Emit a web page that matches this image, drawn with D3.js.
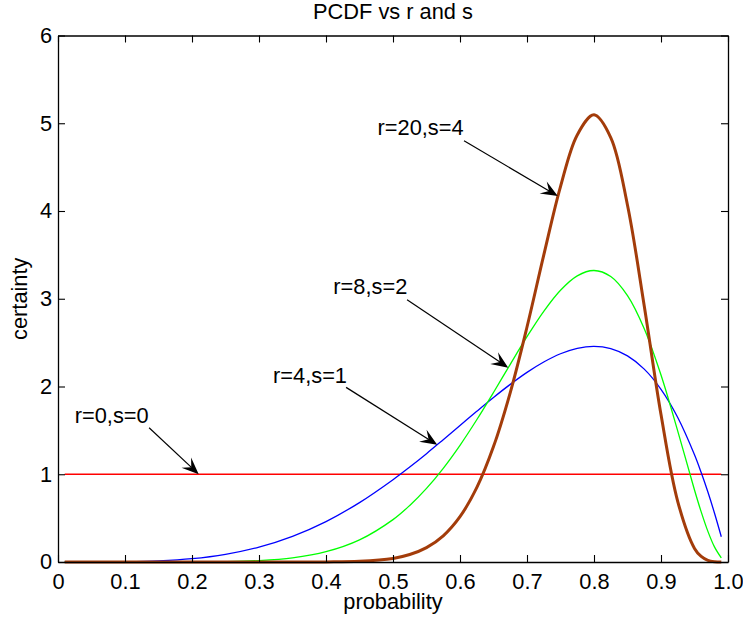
<!DOCTYPE html>
<html>
<head>
<meta charset="utf-8">
<script src="https://cdn.jsdelivr.net/npm/d3@7"></script>
<style>
  body { margin: 0; background: #fff; }
  text { font-family: "Liberation Sans", Arial, Helvetica, sans-serif; fill: #000; }
</style>
</head>
<body>
<script>
// probability values (x) shared by all curves
var xs = [0.01, 0.05, 0.1, 0.15, 0.2, 0.25, 0.3, 0.35, 0.4, 0.45, 0.5, 0.525, 0.55, 0.575,
          0.6, 0.625, 0.65, 0.675, 0.7, 0.725, 0.75, 0.775, 0.8, 0.825, 0.85, 0.875,
          0.9, 0.925, 0.95, 0.96, 0.97, 0.98, 0.99];

// certainty, one array per curve
var r0s0 = [1, 1, 1, 1, 1, 1, 1, 1, 1, 1, 1, 1, 1, 1, 1, 1, 1, 1, 1, 1, 1, 1, 1, 1, 1, 1,
            1, 1, 1, 1, 1, 1, 1];
var r4s1 = [0, 0.0002, 0.003, 0.013, 0.038, 0.088, 0.17, 0.293, 0.461, 0.677, 0.938, 1.083, 1.235, 1.394,
            1.555, 1.717, 1.875, 2.024, 2.161, 2.279, 2.373, 2.435, 2.458, 2.432, 2.349, 2.198,
            1.968, 1.647, 1.222, 1.019, 0.797, 0.553, 0.288];
var r8s2 = [0, 0, 0, 0.0001, 0.0008, 0.004, 0.016, 0.047, 0.117, 0.252, 0.483, 0.645, 0.839, 1.068,
            1.330, 1.621, 1.932, 2.253, 2.568, 2.857, 3.097, 3.261, 3.322, 3.253, 3.035, 2.658,
            2.131, 1.492, 0.821, 0.571, 0.349, 0.169, 0.046];
var r20s4 = [0, 0, 0, 0, 0, 0, 0, 0.0001, 0.001, 0.008, 0.041, 0.085, 0.164, 0.299,
             0.517, 0.847, 1.315, 1.931, 2.678, 3.497, 4.278, 4.867, 5.096, 4.837, 4.066, 2.918,
             1.680, 0.689, 0.155, 0.063, 0.018, 0.003, 0.0001];

var seriesValues = [r0s0, r4s1, r8s2, r20s4];
var seriesColors = ["#ff0000", "#0000ff", "#00ff00", "#a33c0a"];
var seriesWidths = [1.3, 1.3, 1.3, 3];

// annotation arrows: text position, arrow tail and arrow tip (data units)
var noteLabels = ["r=0,s=0", "r=4,s=1", "r=8,s=2", "r=20,s=4"];
var noteTextX = [0.025, 0.321, 0.411, 0.477];
var noteTextY = [1.58, 2.04, 3.05, 4.87];
var noteTailX = [0.136, 0.430, 0.521, 0.606];
var noteTailY = [1.53, 1.99, 2.99, 4.80];
var noteTipX = [0.21, 0.566, 0.672, 0.746];
var noteTipY = [1.0, 1.336, 2.215, 4.17];

var xTicks = [0, 0.1, 0.2, 0.3, 0.4, 0.5, 0.6, 0.7, 0.8, 0.9, 1.0];
var xTickLabels = ["0", "0.1", "0.2", "0.3", "0.4", "0.5", "0.6", "0.7", "0.8", "0.9", "1.0"];
var yTicks = [0, 1, 2, 3, 4, 5, 6];

var width = 743, height = 622;
var plotLeft = 58, plotRight = 728, plotTop = 35.5, plotBottom = 562;
var fontSize = "21.8px";

var svg = d3.select("body").append("svg")
  .attr("width", width)
  .attr("height", height);

var x = d3.scaleLinear().domain([0, 1]).range([plotLeft, plotRight]);
var y = d3.scaleLinear().domain([0, 6]).range([plotBottom, plotTop]);

// curves
var line = d3.line()
  .x(function(d) { return x(d[0]); })
  .y(function(d) { return y(d[1]); })
  .curve(d3.curveCatmullRom.alpha(0.5));

seriesValues.forEach(function(vals, i) {
  svg.append("path")
    .datum(xs.map(function(v, j) { return [v, vals[j]]; }))
    .attr("fill", "none")
    .attr("stroke", seriesColors[i])
    .attr("stroke-width", seriesWidths[i])
    .attr("stroke-linejoin", "round")
    .attr("d", line);
});

// axes, ticks pointing inward on all four sides
function styleAxis(g) {
  g.selectAll("path").attr("stroke", "#000").attr("stroke-width", 1.3);
  g.selectAll(".tick line").attr("stroke", "#000").attr("stroke-width", 1.1);
  g.selectAll("text").style("font-size", fontSize).attr("fill", "#000");
}

svg.append("g")
  .attr("transform", "translate(0," + plotBottom + ")")
  .call(d3.axisBottom(x).tickValues(xTicks).tickSize(-7).tickSizeOuter(0)
        .tickFormat(function(d, i) { return xTickLabels[i]; }))
  .call(styleAxis)
  .call(function(g) { g.selectAll("text").attr("dy", null).attr("y", 26.5); });

svg.append("g")
  .attr("transform", "translate(0," + plotTop + ")")
  .call(d3.axisTop(x).tickValues(xTicks).tickSize(-7).tickSizeOuter(0).tickFormat(""))
  .call(styleAxis);

svg.append("g")
  .attr("transform", "translate(" + plotLeft + ",0)")
  .call(d3.axisLeft(y).tickValues(yTicks).tickSize(-7).tickSizeOuter(0)
        .tickFormat(d3.format("d")))
  .call(styleAxis)
  .call(function(g) { g.selectAll("text").attr("x", -6); });

svg.append("g")
  .attr("transform", "translate(" + plotRight + ",0)")
  .call(d3.axisRight(y).tickValues(yTicks).tickSize(-7).tickSizeOuter(0).tickFormat(""))
  .call(styleAxis);

// titles
svg.append("text")
  .attr("x", (plotLeft + plotRight) / 2).attr("y", 19)
  .attr("text-anchor", "middle")
  .style("font-size", fontSize)
  .text("PCDF vs r and s");

svg.append("text")
  .attr("x", (plotLeft + plotRight) / 2).attr("y", 609)
  .attr("text-anchor", "middle")
  .style("font-size", fontSize)
  .text("probability");

svg.append("text")
  .attr("transform", "translate(27," + (plotTop + plotBottom) / 2 + ") rotate(-90)")
  .attr("text-anchor", "middle")
  .style("font-size", fontSize)
  .text("certainty");

// annotations with arrows
noteLabels.forEach(function(lbl, i) {
  svg.append("text")
    .attr("x", x(noteTextX[i])).attr("y", y(noteTextY[i]))
    .style("font-size", fontSize)
    .text(lbl);

  var x0 = x(noteTailX[i]), y0 = y(noteTailY[i]);
  var x1 = x(noteTipX[i]), y1 = y(noteTipY[i]);
  var ang = Math.atan2(y1 - y0, x1 - x0);
  var len = 17, half = 7;

  svg.append("line")
    .attr("x1", x0).attr("y1", y0)
    .attr("x2", x1 - Math.cos(ang) * 10)
    .attr("y2", y1 - Math.sin(ang) * 10)
    .attr("stroke", "#000").attr("stroke-width", 1.2);

  svg.append("path")
    .attr("transform", "translate(" + x1 + "," + y1 + ") rotate(" + (ang * 180 / Math.PI) + ")")
    .attr("d", "M0,0L" + (-len) + "," + (-half) + "L" + (-len * 0.6) + ",0L" + (-len) + "," + half + "Z")
    .attr("fill", "#000");
});
</script>
</body>
</html>
